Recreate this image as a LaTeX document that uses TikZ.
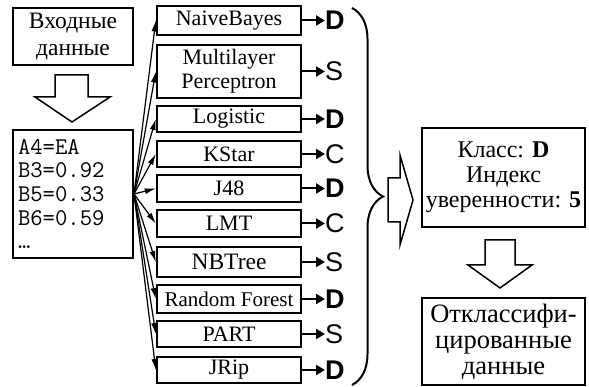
\documentclass[tikz,border=0pt]{standalone}
\usepackage{fontspec}
\setmainfont{Liberation Serif}
\setsansfont{Liberation Sans}
\usetikzlibrary{arrows.meta,decorations.pathreplacing}

\begin{document}
\begin{tikzpicture}[x=1pt, y=-1pt,
    box/.style={draw, line width=2pt, inner sep=0pt, align=center, font=\fontsize{22}{24}\selectfont},
    algo/.style={box, line width=2.4pt, minimum width=144pt},
    cls/.style={anchor=west, inner sep=0pt, font=\sffamily\fontsize{27}{27}\selectfont},
    spread/.style={-{Latex[length=11pt,width=6pt]}, line width=1.2pt},
    toclass/.style={-{Triangle[length=9pt,width=10pt]}, line width=2pt},
    hollow/.style={draw, line width=1.5pt, fill=white}]
  \useasboundingbox (0,0) rectangle (589,387);

  % boxes
  \node[box, minimum width=120pt, minimum height=57pt, font=\fontsize{23.5}{27}\selectfont] (input) at (73,36.5) {Входные\\данные};
  \node[box, minimum width=120pt, minimum height=128pt, text width=110pt, align=left, font=\ttfamily\fontsize{24}{23.7}\selectfont] (data) at (73,194) {A4=EA\\B3=0.92\\B5=0.33\\B6=0.59\\…};

  \node[algo, minimum height=29pt] (nb) at (229,20.5) {NaiveBayes};
  \node[algo, minimum height=53pt] (mlp) at (229,71.5) {Multilayer\\Perceptron};
  \node[algo, minimum height=26pt] (logist) at (229,119) {Logistic};
  \node[algo, minimum height=26pt] (kstar) at (229,154) {KStar};
  \node[algo, minimum height=27pt] (j48) at (229,188.5) {J48};
  \node[algo, minimum height=27pt] (lmt) at (229,223.5) {LMT};
  \node[algo, minimum height=30pt, font=\fontsize{23.5}{24}\selectfont] (nbt) at (229,262) {NBTree};
  \node[algo, minimum height=28pt, font=\fontsize{21}{24}\selectfont] (rf) at (229,299) {Random Forest};
  \node[algo, minimum height=26pt] (part) at (229,334) {PART};
  \node[algo, minimum height=26pt] (jrip) at (229,370) {JRip};

  \node[box, minimum width=163pt, minimum height=99pt, font=\fontsize{24}{25}\selectfont] (res) at (503.5,177.5) {Класс: \textbf{D}\\Индекс\\уверенности: \textbf{5}};
  \node[box, minimum width=163pt, minimum height=87pt, font=\fontsize{26.5}{26}\selectfont] (done) at (503.5,341.5) {Отклассифи-\\цированные\\данные};

  % class letters
  \node[cls] (cnb) at (325,20.5) {\bfseries D};
  \node[cls] (cmlp) at (325,71.5) {S};
  \node[cls] (clogist) at (325,119) {\bfseries D};
  \node[cls] (ckstar) at (325,154) {C};
  \node[cls] (cj48) at (325,188.5) {\bfseries D};
  \node[cls] (clmt) at (325,223.5) {C};
  \node[cls] (cnbt) at (325,262) {S};
  \node[cls] (crf) at (325,299) {\bfseries D};
  \node[cls] (cpart) at (325,334) {S};
  \node[cls] (cjrip) at (325,370) {\bfseries D};

  % arrows to the classifiers
  \draw[spread] (data.east) -- (nb.west);
  \draw[spread] (data.east) -- (mlp.west);
  \draw[spread] (data.east) -- (logist.west);
  \draw[spread] (data.east) -- (kstar.west);
  \draw[spread] (data.east) -- (j48.west);
  \draw[spread] (data.east) -- (lmt.west);
  \draw[spread] (data.east) -- (nbt.west);
  \draw[spread] (data.east) -- (rf.west);
  \draw[spread] (data.east) -- (part.west);
  \draw[spread] (data.east) -- (jrip.west);

  % arrows to the letters
  \draw[toclass] (nb) -- (cnb);
  \draw[toclass] (mlp) -- (cmlp);
  \draw[toclass] (logist) -- (clogist);
  \draw[toclass] (kstar) -- (ckstar);
  \draw[toclass] (j48) -- (cj48);
  \draw[toclass] (lmt) -- (clmt);
  \draw[toclass] (nbt) -- (cnbt);
  \draw[toclass] (rf) -- (crf);
  \draw[toclass] (part) -- (cpart);
  \draw[toclass] (jrip) -- (cjrip);

  % brace
  \coordinate (btop) at (352,8);
  \coordinate (bbot) at (352,385);
  \draw[line width=2pt, decorate, decoration={brace, amplitude=31pt}] (btop) -- (bbot);

  % hollow arrows
  \draw[hollow] (55,75) -- (88,75) -- (88,97) -- (110,97) -- (72,122) -- (35,97) -- (55,97) -- cycle;
  \draw[hollow] (388,178) -- (400,178) -- (400,155) -- (413,200) -- (400,245) -- (400,222) -- (388,222) -- cycle;
  \draw[hollow] (485,240) -- (515,240) -- (515,265) -- (532,265) -- (500,288) -- (468,265) -- (485,265) -- cycle;
\end{tikzpicture}
\end{document}
